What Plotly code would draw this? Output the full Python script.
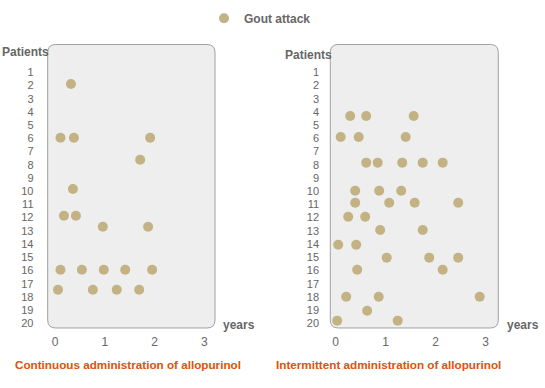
import plotly.graph_objects as go

W, H = 545, 388

patients = list(range(1, 21))
year_ticks = [0, 1, 2, 3]

# Continuous administration: (years, patient row) of each gout attack
cont_years = [0.32, 0.11, 0.38, 1.91, 1.71, 0.36, 0.18, 0.42, 0.96, 1.87,
              0.11, 0.54, 0.98, 1.41, 1.95, 0.06, 0.76, 1.24, 1.69]
cont_patients = [1.89, 5.95, 5.95, 5.95, 7.62, 9.83, 11.86, 11.86, 12.69, 12.69,
                 15.94, 15.94, 15.94, 15.94, 15.94, 17.46, 17.46, 17.46, 17.46]

# Intermittent administration
inter_years = [0.29, 0.61, 1.56, 0.10, 0.46, 1.40, 0.61, 0.84, 1.33, 1.74, 2.14,
               0.39, 0.87, 1.31, 0.39, 1.07, 1.58, 2.45, 0.25, 0.59, 0.89, 1.74,
               0.05, 0.41, 1.02, 1.87, 2.45, 0.43, 2.14, 0.21, 0.86, 2.88,
               0.63, 0.03, 1.24]
inter_patients = [4.31, 4.31, 4.31, 5.90, 5.90, 5.90, 7.84, 7.84, 7.84, 7.84, 7.84,
                  9.96, 9.96, 9.96, 10.87, 10.87, 10.87, 10.87, 11.93, 11.93, 12.94, 12.94,
                  14.05, 14.05, 15.03, 15.03, 15.03, 15.94, 15.94, 17.99, 17.99, 17.99,
                  19.05, 19.80, 19.80]

titles = ["Continuous administration of allopurinol",
          "Intermittent administration of allopurinol"]
legend_name = "Gout attack"

DOT = "#c3b283"
GRAY = "#666666"
ORANGE = "#e05206"
FONT = "Arial, Liberation Sans, sans-serif"

fig = go.Figure()
fig.add_trace(go.Scatter(x=cont_years, y=cont_patients, mode="markers",
                         marker=dict(size=10, color=DOT), name=f"<b>{legend_name}</b>",
                         showlegend=True, xaxis="x", yaxis="y", hoverinfo="skip"))
fig.add_trace(go.Scatter(x=inter_years, y=inter_patients, mode="markers",
                         marker=dict(size=10, color=DOT), name=legend_name,
                         showlegend=False, xaxis="x2", yaxis="y2", hoverinfo="skip"))

# panel boxes in pixel coordinates
top, bottom = 44.5, 328.0
panels = [(47.7, 215.0), (330.3, 498.3)]
zero_px = [55.0, 335.7]
px_per_year = [49.8, 50.0]


def px2paper(x, y):
    return x / W, 1 - y / H


def rounded_path(x0, y0, x1, y1, r):
    def P(x, y):
        a, b = px2paper(x, y)
        return f"{a:.5f},{b:.5f}"
    d = f"M {P(x0 + r, y0)} L {P(x1 - r, y0)} Q {P(x1, y0)} {P(x1, y0 + r)} "
    d += f"L {P(x1, y1 - r)} Q {P(x1, y1)} {P(x1 - r, y1)} "
    d += f"L {P(x0 + r, y1)} Q {P(x0, y1)} {P(x0, y1 - r)} "
    d += f"L {P(x0, y0 + r)} Q {P(x0, y0)} {P(x0 + r, y0)} Z"
    return d


shapes = []
for (x0, x1) in panels:
    shapes.append(dict(type="path", xref="paper", yref="paper",
                       path=rounded_path(x0, top, x1, bottom, 8),
                       fillcolor="#eeeeee", line=dict(color="#a0a0a0", width=1),
                       layer="below"))

# y range: row 1 at 72.3px, row 20 at 323.3px
ppp = (323.3 - 72.3) / 19
y_top = 1 + (top - 72.3) / ppp
y_bot = 1 + (bottom - 72.3) / ppp

axis_common = dict(showgrid=False, zeroline=False, showline=False, fixedrange=True,
                   automargin=False)

ydom = [1 - bottom / H, 1 - top / H]
for i, (x0, x1) in enumerate(panels):
    xr = [(x0 - zero_px[i]) / px_per_year[i], (x1 - zero_px[i]) / px_per_year[i]]
    sfx = "" if i == 0 else "2"
    fig.update_layout({
        f"xaxis{sfx}": dict(domain=[x0 / W, x1 / W], range=xr, tickvals=year_ticks,
                            ticktext=[str(v) for v in year_ticks],
                            ticks="outside", ticklen=3, tickcolor="rgba(0,0,0,0)",
                            tickfont=dict(size=12, color=GRAY, family=FONT),
                            anchor="y" + sfx, **axis_common),
        f"yaxis{sfx}": dict(domain=ydom, range=[y_bot, y_top], tickvals=patients,
                            ticktext=[str(p) for p in patients],
                            ticks="outside", ticklen=11 if i == 0 else 8,
                            tickcolor="rgba(0,0,0,0)",
                            tickfont=dict(size=11, color=GRAY, family=FONT),
                            anchor="x" + sfx, **axis_common),
    })

ann = []
def add_text(text, x, y, color=GRAY, size=12, xanchor="center"):
    a, b = px2paper(x, y)
    ann.append(dict(text=f"<b>{text}</b>", x=a, y=b, xref="paper", yref="paper",
                    xanchor=xanchor, yanchor="middle", showarrow=False,
                    font=dict(size=size, color=color, family=FONT)))

add_text("Patients", 0, 51.7, xanchor="left")
add_text("Patients", 283, 55.5, xanchor="left")
add_text("years", 221, 325, xanchor="left")
add_text("years", 505, 325, xanchor="left")
add_text(titles[0], 127.5, 364.7, color=ORANGE, size=11.7)
add_text(titles[1], 388.3, 364.7, color=ORANGE, size=11.7)

fig.update_layout(
    width=W, height=H, margin=dict(l=0, r=0, t=0, b=0, pad=0, autoexpand=False),
    paper_bgcolor="white", plot_bgcolor="rgba(0,0,0,0)",
    shapes=shapes, annotations=ann,
    showlegend=True,
    legend=dict(x=204 / W, y=1 - 18.3 / H, xanchor="left", yanchor="middle",
                orientation="h", bgcolor="rgba(0,0,0,0)",
                font=dict(size=12, color=GRAY, family=FONT),
                itemclick=False, itemdoubleclick=False),
    font=dict(family=FONT),
)

fig.write_html("out.html", config={"displayModeBar": False},
               post_script="document.body.style.margin='0';")
